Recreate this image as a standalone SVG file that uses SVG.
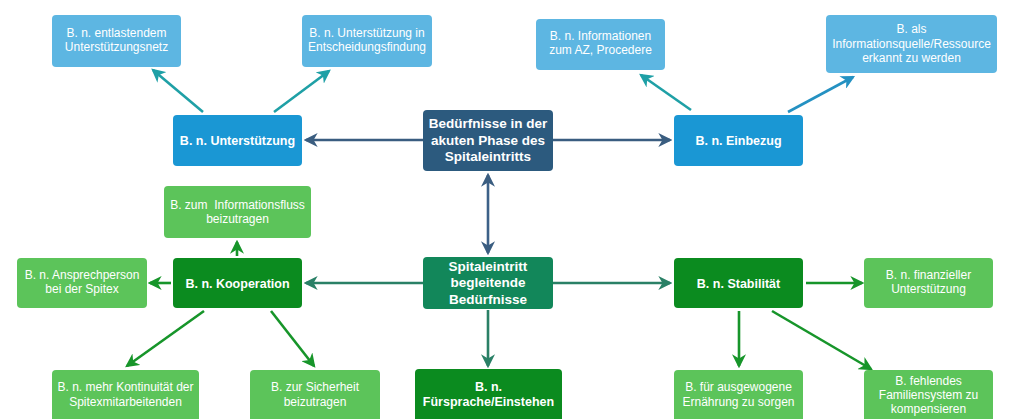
<svg xmlns="http://www.w3.org/2000/svg" width="1010" height="419" viewBox="0 0 1010 419">
<defs>
<style>
.lb{fill:#5db6e2}
.mb{fill:#1a97d4}
.db{fill:#2c5a7e}
.lg{fill:#5cc45a}
.dg{fill:#0b8b1f}
.cg{fill:#12875a}
.t{font-family:"Liberation Sans",Arial,sans-serif;font-size:12px;fill:#fff;text-anchor:middle}
.b{font-family:"Liberation Sans",Arial,sans-serif;font-size:12.5px;font-weight:bold;fill:#fff;text-anchor:middle}
.c{font-family:"Liberation Sans",Arial,sans-serif;font-size:13.5px;font-weight:bold;fill:#fff;text-anchor:middle}
.ln{fill:none;stroke-width:2.6}
</style>
<marker id="aTeal" viewBox="0 0 12 12" refX="10" refY="6" markerWidth="14" markerHeight="14" markerUnits="userSpaceOnUse" orient="auto-start-reverse"><path d="M0,0 L12,6 L0,12 L3.5,6 z" fill="#1fa0a6"/></marker>
<marker id="aSky" viewBox="0 0 12 12" refX="10" refY="6" markerWidth="14" markerHeight="14" markerUnits="userSpaceOnUse" orient="auto-start-reverse"><path d="M0,0 L12,6 L0,12 L3.5,6 z" fill="#2491c2"/></marker>
<marker id="aNavy" viewBox="0 0 12 12" refX="10" refY="6" markerWidth="14" markerHeight="14" markerUnits="userSpaceOnUse" orient="auto-start-reverse"><path d="M0,0 L12,6 L0,12 L3.5,6 z" fill="#3a5d80"/></marker>
<marker id="aTg" viewBox="0 0 12 12" refX="10" refY="6" markerWidth="14" markerHeight="14" markerUnits="userSpaceOnUse" orient="auto-start-reverse"><path d="M0,0 L12,6 L0,12 L3.5,6 z" fill="#2a8066"/></marker>
<marker id="aGr" viewBox="0 0 12 12" refX="10" refY="6" markerWidth="14" markerHeight="14" markerUnits="userSpaceOnUse" orient="auto-start-reverse"><path d="M0,0 L12,6 L0,12 L3.5,6 z" fill="#17952a"/></marker>
</defs>
<rect width="1010" height="419" fill="#fff"/>
<g id="connectors">
<line class="ln" x1="203" y1="112" x2="153" y2="70" stroke="#1fa0a6" marker-end="url(#aTeal)"/>
<line class="ln" x1="274" y1="112" x2="329" y2="71" stroke="#1fa0a6" marker-end="url(#aTeal)"/>
<line class="ln" x1="691" y1="110" x2="641" y2="75" stroke="#1fa0a6" marker-end="url(#aTeal)"/>
<line class="ln" x1="788" y1="112" x2="853" y2="77" stroke="#2491c2" marker-end="url(#aSky)"/>
<line class="ln" x1="423" y1="140" x2="306" y2="140" stroke="#3a5d80" marker-end="url(#aNavy)"/>
<line class="ln" x1="553" y1="140" x2="670" y2="140" stroke="#3a5d80" marker-end="url(#aNavy)"/>
<line class="ln" x1="488" y1="175" x2="488" y2="253" stroke="#3d6188" marker-start="url(#aNavy)" marker-end="url(#aNavy)"/>
<line class="ln" x1="423" y1="283" x2="306" y2="283" stroke="#2a8066" marker-end="url(#aTg)"/>
<line class="ln" x1="553" y1="283" x2="670" y2="283" stroke="#2a8066" marker-end="url(#aTg)"/>
<line class="ln" x1="488" y1="310" x2="488" y2="366" stroke="#2a8066" marker-end="url(#aTg)"/>
<line class="ln" x1="237" y1="256" x2="237" y2="242" stroke="#17952a" marker-end="url(#aGr)"/>
<line class="ln" x1="171" y1="283" x2="150" y2="283" stroke="#17952a" marker-end="url(#aGr)"/>
<line class="ln" x1="204" y1="311" x2="127" y2="366" stroke="#17952a" marker-end="url(#aGr)"/>
<line class="ln" x1="271" y1="311" x2="314" y2="366" stroke="#17952a" marker-end="url(#aGr)"/>
<line class="ln" x1="806" y1="283" x2="862" y2="283" stroke="#17952a" marker-end="url(#aGr)"/>
<line class="ln" x1="739" y1="311" x2="739" y2="366" stroke="#17952a" marker-end="url(#aGr)"/>
<line class="ln" x1="772" y1="311" x2="871" y2="369" stroke="#17952a" marker-end="url(#aGr)"/>
</g>
<g id="n_entlastend"><rect class="lb" x="52" y="15" width="129" height="52" rx="4"/><text class="t" x="116.5" y="37">B. n. entlastendem</text><text class="t" x="116.5" y="51">Unterstützungsnetz</text></g>
<g id="n_entscheidung"><rect class="lb" x="302" y="15" width="130" height="52" rx="4"/><text class="t" x="367" y="37">B. n. Unterstützung in</text><text class="t" x="367" y="51">Entscheidungsfindung</text></g>
<g id="n_unterstuetzung"><rect class="mb" x="173" y="115" width="129" height="51" rx="4"/><text class="b" x="237.5" y="145">B. n. Unterstützung</text></g>
<g id="n_akut"><rect class="db" x="423" y="110" width="130" height="61" rx="4"/><text class="c" x="488" y="128">Bedürfnisse in der</text><text class="c" x="488" y="144.5">akuten Phase des</text><text class="c" x="488" y="161">Spitaleintritts</text></g>
<g id="n_einbezug"><rect class="mb" x="674" y="115" width="129" height="51" rx="4"/><text class="b" x="738.5" y="145">B. n. Einbezug</text></g>
<g id="n_info_az"><rect class="lb" x="536" y="19" width="129" height="51" rx="4"/><text class="t" x="600.5" y="40">B. n. Informationen</text><text class="t" x="600.5" y="54">zum AZ, Procedere</text></g>
<g id="n_ressource"><rect class="lb" x="826" y="15" width="171" height="58" rx="4"/><text class="t" x="911.5" y="33">B. als</text><text class="t" x="911.5" y="48">Informationsquelle/Ressource</text><text class="t" x="911.5" y="62">erkannt zu werden</text></g>
<g id="n_begleitend"><rect class="cg" x="423" y="257" width="130" height="52" rx="4"/><text class="c" x="488" y="270.5">Spitaleintritt</text><text class="c" x="488" y="287">begleitende</text><text class="c" x="488" y="303.5">Bedürfnisse</text></g>
<g id="n_fuersprache"><rect class="dg" x="415" y="369" width="147" height="60" rx="4"/><text class="b" x="488.5" y="391">B. n.</text><text class="b" x="488.5" y="406">Fürsprache/Einstehen</text></g>
<g id="n_informationsfluss"><rect class="lg" x="164" y="186" width="147" height="52" rx="4"/><text class="t" x="237.5" y="209" style="white-space:pre">B. zum  Informationsfluss</text><text class="t" x="237.5" y="223">beizutragen</text></g>
<g id="n_kooperation"><rect class="dg" x="173" y="258" width="129" height="50" rx="4"/><text class="b" x="237.5" y="287.5">B. n. Kooperation</text></g>
<g id="n_ansprech"><rect class="lg" x="17" y="258" width="130" height="50" rx="4"/><text class="t" x="82" y="279">B. n. Ansprechperson</text><text class="t" x="82" y="293">bei der Spitex</text></g>
<g id="n_kontinuitaet"><rect class="lg" x="52" y="370" width="147" height="60" rx="4"/><text class="t" x="125.5" y="391">B. n. mehr Kontinuität der</text><text class="t" x="125.5" y="406">Spitexmitarbeitenden</text></g>
<g id="n_sicherheit"><rect class="lg" x="250" y="370" width="130" height="60" rx="4"/><text class="t" x="315" y="391">B. zur Sicherheit</text><text class="t" x="315" y="406">beizutragen</text></g>
<g id="n_stabilitaet"><rect class="dg" x="674" y="258" width="129" height="50" rx="4"/><text class="b" x="738.5" y="287.5">B. n. Stabilität</text></g>
<g id="n_finanziell"><rect class="lg" x="864" y="258" width="129" height="50" rx="4"/><text class="t" x="928.5" y="279">B. n. finanzieller</text><text class="t" x="928.5" y="293">Unterstützung</text></g>
<g id="n_ernaehrung"><rect class="lg" x="674" y="370" width="129" height="60" rx="4"/><text class="t" x="738.5" y="391">B. für ausgewogene</text><text class="t" x="738.5" y="406">Ernährung zu sorgen</text></g>
<g id="n_familie"><rect class="lg" x="864" y="370" width="129" height="60" rx="4"/><text class="t" x="928.5" y="385">B. fehlendes</text><text class="t" x="928.5" y="399">Familiensystem zu</text><text class="t" x="928.5" y="413">kompensieren</text></g>
</svg>
